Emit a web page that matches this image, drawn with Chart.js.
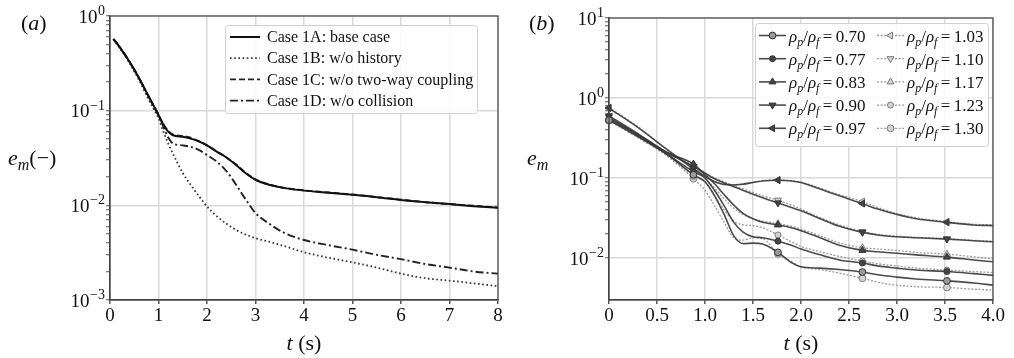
<!DOCTYPE html>
<html lang="en">
<head>
<meta charset="UTF-8">
<title>Error decay e_m</title>
<script src="https://cdn.jsdelivr.net/npm/chart.js"></script>
<style>
  body { margin: 0; background: #fff; }
  #wrap { position: relative; width: 1014px; height: 358px; font-family: 'Liberation Serif', serif; color: #111; }
  #wrap canvas { position: absolute; top: 0; }
  .lbl { position: absolute; white-space: nowrap; font-size: 22px; line-height: 22px; }
  .lbl sub { font-size: 16px; vertical-align: -5px; line-height: 0; }
  .ctr { transform: translateX(-50%); }
</style>
</head>
<body>
<div id="wrap">
  <canvas id="chartA" width="507" height="358" style="left:0"></canvas>
  <canvas id="chartB" width="507" height="358" style="left:507px"></canvas>
  <div class="lbl" style="left:21px;top:12px">(<i>a</i>)</div>
  <div class="lbl" style="left:8px;top:147px"><i>e</i><sub><i>m</i></sub>(&minus;)</div>
  <div class="lbl ctr" style="left:304px;top:332px"><i>t</i> (s)</div>
  <div class="lbl" style="left:529px;top:12px">(<i>b</i>)</div>
  <div class="lbl" style="left:527px;top:147px"><i>e</i><sub><i>m</i></sub></div>
  <div class="lbl ctr" style="left:801px;top:332px"><i>t</i> (s)</div>
</div>

<script>
// ---- panel (a): influence of the model terms ----
const timeA  = [0.07, 0.2, 0.4, 0.6, 0.8, 1.0, 1.1, 1.2, 1.3, 1.5, 1.7, 1.85, 2.0, 2.2, 2.4, 2.6, 2.8, 3.0, 3.3, 3.6, 4.0, 4.5, 5.0, 5.5, 6.0, 6.5, 7.0, 7.5, 8.0];
const case1A = [0.57, 0.47, 0.33, 0.22, 0.14, 0.09, 0.071, 0.06, 0.055, 0.053, 0.050, 0.047, 0.043, 0.037, 0.032, 0.0267, 0.0218, 0.0186, 0.0164, 0.0152, 0.0143, 0.0136, 0.0129, 0.0122, 0.0114, 0.0108, 0.0103, 0.0098, 0.0094];
const case1B = [0.57, 0.46, 0.32, 0.21, 0.13, 0.083, 0.06, 0.045, 0.035, 0.022, 0.0155, 0.0122, 0.0097, 0.0077, 0.0064, 0.0055, 0.0049, 0.0045, 0.0041, 0.0037, 0.0032, 0.0028, 0.0025, 0.0022, 0.0019, 0.0017, 0.0016, 0.0015, 0.0014];
const case1C = [0.57, 0.47, 0.33, 0.22, 0.14, 0.09, 0.072, 0.061, 0.056, 0.054, 0.051, 0.047, 0.043, 0.037, 0.032, 0.027, 0.022, 0.0188, 0.0165, 0.0153, 0.0144, 0.0137, 0.013, 0.0122, 0.0115, 0.0108, 0.0103, 0.0099, 0.0095];
const case1D = [0.57, 0.47, 0.33, 0.22, 0.14, 0.09, 0.068, 0.052, 0.045, 0.043, 0.041, 0.038, 0.034, 0.029, 0.023, 0.0165, 0.0115, 0.0083, 0.0063, 0.0051, 0.0043, 0.0038, 0.0034, 0.0030, 0.0027, 0.0024, 0.0022, 0.0020, 0.0019];
const caseLabels = ['Case 1A: base case', 'Case 1B: w/o history', 'Case 1C: w/o two-way coupling', 'Case 1D: w/o collision'];
const xTicksA = [0, 1, 2, 3, 4, 5, 6, 7, 8];
const decadesA = [1e-3, 1e-2, 1e-1, 1];

// ---- panel (b): density ratio sweep ----
const timeB = [0, 0.3, 0.6, 0.88, 1.0, 1.1, 1.2, 1.3, 1.4, 1.5, 1.6, 1.76, 1.9, 2.0, 2.2, 2.4, 2.64, 2.8, 3.0, 3.2, 3.52, 3.8, 4.0];
const markerTimes = [0, 0.88, 1.76, 2.64, 3.52];
const ratioLabels = ['0.70', '0.77', '0.83', '0.90', '0.97', '1.03', '1.10', '1.17', '1.23', '1.30'];
const r070 = [0.53, 0.33, 0.2, 0.11, 0.09, 0.06, 0.035, 0.019, 0.0152, 0.0154, 0.015, 0.0118, 0.0088, 0.0078, 0.0075, 0.0072, 0.0067, 0.0062, 0.0058, 0.0055, 0.0052, 0.0049, 0.0046];
const r077 = [0.55, 0.34, 0.2, 0.12, 0.1, 0.07, 0.045, 0.028, 0.021, 0.0185, 0.018, 0.0163, 0.0145, 0.013, 0.011, 0.0095, 0.0087, 0.008, 0.0075, 0.0071, 0.0068, 0.0064, 0.0061];
const r083 = [0.57, 0.35, 0.21, 0.15, 0.11, 0.085, 0.062, 0.046, 0.036, 0.031, 0.028, 0.026, 0.024, 0.022, 0.018, 0.0145, 0.0125, 0.012, 0.0115, 0.011, 0.0103, 0.0095, 0.009];
const r090 = [0.6, 0.36, 0.21, 0.14, 0.115, 0.098, 0.087, 0.078, 0.07, 0.063, 0.057, 0.049, 0.043, 0.039, 0.031, 0.025, 0.021, 0.0195, 0.0185, 0.018, 0.0173, 0.0165, 0.016];
const r097 = [0.75, 0.43, 0.23, 0.13, 0.105, 0.09, 0.083, 0.082, 0.084, 0.088, 0.092, 0.094, 0.092, 0.088, 0.073, 0.06, 0.048, 0.041, 0.035, 0.031, 0.028, 0.026, 0.0255];
const r103 = [0.76, 0.44, 0.23, 0.135, 0.107, 0.091, 0.084, 0.083, 0.085, 0.089, 0.093, 0.095, 0.093, 0.089, 0.075, 0.062, 0.051, 0.043, 0.036, 0.032, 0.0285, 0.0265, 0.026];
const r110 = [0.58, 0.35, 0.21, 0.14, 0.117, 0.1, 0.09, 0.081, 0.073, 0.066, 0.06, 0.053, 0.046, 0.041, 0.032, 0.026, 0.0215, 0.0198, 0.0188, 0.0182, 0.0175, 0.0167, 0.0162];
const r117 = [0.56, 0.34, 0.2, 0.145, 0.1, 0.075, 0.055, 0.042, 0.035, 0.031, 0.029, 0.027, 0.025, 0.023, 0.019, 0.0155, 0.0135, 0.013, 0.0125, 0.0118, 0.0112, 0.0104, 0.0098];
const r123 = [0.54, 0.33, 0.2, 0.105, 0.09, 0.06, 0.04, 0.029, 0.026, 0.0255, 0.024, 0.0195, 0.016, 0.014, 0.012, 0.0105, 0.0092, 0.0085, 0.008, 0.0075, 0.0071, 0.0068, 0.0066];
const r130 = [0.52, 0.32, 0.19, 0.098, 0.07, 0.045, 0.028, 0.018, 0.0168, 0.018, 0.0176, 0.0113, 0.009, 0.0078, 0.0072, 0.0065, 0.0056, 0.005, 0.0046, 0.0044, 0.0043, 0.0041, 0.004];
const xTicksB = [0, 0.5, 1.0, 1.5, 2.0, 2.5, 3.0, 3.5, 4.0];
const decadesB = [1e-2, 1e-1, 1, 10];
const yMinB = 0.003;

const SERIF = '"Liberation Serif", serif';
Chart.defaults.font.family = SERIF;
Chart.defaults.font.size = 19;
Chart.defaults.color = '#111';

function pairs(xs, ys) { return xs.map((x, i) => ({x: x, y: ys[i]})); }

// decade ticks plus 2..9 minor ticks, clipped to [lo, hi]
function logTicks(decades, lo, hi) {
  const out = [];
  decades.forEach(d => {
    for (let k = 1; k <= 9; k++) {
      const v = +(d * k).toPrecision(6);
      if (v >= lo * 0.999 && v <= hi * 1.001) out.push({value: v, major: k === 1});
    }
  });
  return out;
}

const gridGray = '#d9d9d9';

const frame = {
  id: 'frame',
  afterDatasetsDraw(chart) {
    const a = chart.chartArea, ctx = chart.ctx;
    ctx.save();
    ctx.strokeStyle = '#444';
    ctx.lineWidth = 1.2;
    ctx.strokeRect(a.left, a.top, a.right - a.left, a.bottom - a.top);
    ctx.restore();
  }
};

// "10" with a raised exponent, like the mathtext labels of the original
const powerLabels = {
  id: 'powerLabels',
  afterDraw(chart, args, opts) {
    const s = chart.scales.y, ctx = chart.ctx;
    ctx.save();
    ctx.fillStyle = '#111';
    ctx.textAlign = 'right';
    ctx.textBaseline = 'alphabetic';
    opts.decades.forEach(d => {
      const y = s.getPixelForValue(d);
      const ex = String(Math.round(Math.log10(d))).replace('-', '\u2212');
      const right = s.right - 5;
      ctx.font = '14px ' + SERIF;
      ctx.fillText(ex, right, y - 1);
      const w = ctx.measureText(ex).width;
      ctx.font = '19px ' + SERIF;
      ctx.fillText('10', right - w - 0.5, y + 6.5);
    });
    ctx.restore();
  }
};

function legendBox(ctx, x, y, w, h) {
  ctx.save();
  ctx.fillStyle = 'rgba(255,255,255,0.85)';
  ctx.strokeStyle = '#d0d0d0';
  ctx.lineWidth = 1;
  ctx.beginPath();
  ctx.roundRect(x, y, w, h, 3);
  ctx.fill();
  ctx.stroke();
  ctx.restore();
}

function yScale(decades, lo, hi, width) {
  return {
    type: 'logarithmic',
    min: lo, max: hi,
    afterBuildTicks: s => { s.ticks = logTicks(decades, lo, hi); },
    afterFit: s => { s.width = width; },
    border: {color: '#444', width: 1.2},
    grid: {
      color: c => (c.tick && c.tick.major) ? gridGray : 'rgba(0,0,0,0)',
      lineWidth: 1.5,
      tickColor: '#555',
      tickLength: 4,
      tickWidth: 1
    },
    ticks: {autoSkip: false, padding: 1, callback: () => ''}
  };
}

function xScale(lo, hi, vals, fmt) {
  return {
    type: 'linear',
    min: lo, max: hi,
    afterBuildTicks: s => { s.ticks = vals.map(v => ({value: v})); },
    afterFit: s => { s.height = 58; },
    border: {color: '#444', width: 1.2},
    grid: {color: gridGray, lineWidth: 1.5, tickColor: '#555', tickLength: 4},
    ticks: {autoSkip: false, maxRotation: 0, padding: 1, callback: fmt}
  };
}

// ---------------- chart (a) ----------------
const lineStyleA = [
  {color: '#111', width: 2, dash: []},
  {color: '#333', width: 1.8, dash: [1.6, 2.6]},
  {color: '#222', width: 1.9, dash: [6, 3]},
  {color: '#222', width: 1.9, dash: [8, 3, 2, 3]}
];
const seriesA = [case1A, case1B, case1C, case1D];

const legendA = {
  id: 'legendA',
  afterDraw(chart) {
    const ctx = chart.ctx;
    legendBox(ctx, 225.5, 25.5, 252, 88);
    ctx.save();
    ctx.font = '16px ' + SERIF;
    ctx.textBaseline = 'middle';
    caseLabels.forEach((lab, i) => {
      const y = 37 + i * 21.2, st = lineStyleA[i];
      ctx.strokeStyle = st.color;
      ctx.lineWidth = st.width;
      ctx.setLineDash(st.dash);
      ctx.beginPath();
      ctx.moveTo(230, y);
      ctx.lineTo(260, y);
      ctx.stroke();
      ctx.setLineDash([]);
      ctx.fillStyle = '#111';
      ctx.fillText(lab, 267, y + 1);
    });
    ctx.restore();
  }
};

// ---------------- chart (b) ----------------
const seriesB = [r070, r077, r083, r090, r097, r103, r110, r117, r123, r130];
const markerB = [
  {style: 'circle', rot: 0, r: 3.4},
  {style: 'circle', rot: 0, r: 3.0},
  {style: 'triangle', rot: 0, r: 4.0},
  {style: 'triangle', rot: 180, r: 4.0},
  {style: 'triangle', rot: -90, r: 4.0},
  {style: 'triangle', rot: -90, r: 4.0},
  {style: 'triangle', rot: 180, r: 4.0},
  {style: 'triangle', rot: 0, r: 4.0},
  {style: 'circle', rot: 0, r: 3.0},
  {style: 'circle', rot: 0, r: 3.4}
];
function styleB(i) {
  const solid = i < 5;
  return {
    line: solid ? 'rgba(55,55,55,0.9)' : 'rgba(150,150,150,0.95)',
    width: solid ? 1.6 : 1.3,
    dash: solid ? [] : [2, 1.6],
    fill: solid ? (i === 0 ? '#9a9a9a' : '#444') : '#d4d4d4',
    edge: solid ? '#333' : '#7a7a7a'
  };
}

function drawRatio(ctx, x, y, val) {
  const big = '17px ' + SERIF, bigI = 'italic 17px ' + SERIF, small = 'italic 12px ' + SERIF;
  const parts = [['\u03C1', bigI, 0], ['p', small, 4], ['/', big, 0], ['\u03C1', bigI, 0], ['f', small, 4], ['\u2009=\u2009' + val, big, 0]];
  parts.forEach(p => {
    ctx.font = p[1];
    ctx.fillText(p[0], x, y + p[2]);
    x += ctx.measureText(p[0]).width;
  });
}

const legendB = {
  id: 'legendB',
  afterDraw(chart) {
    const ctx = chart.ctx;
    legendBox(ctx, 248.5, 23.5, 233, 123);
    ctx.save();
    ctx.textBaseline = 'alphabetic';
    ratioLabels.forEach((lab, i) => {
      const col = Math.floor(i / 5), row = i % 5;
      const x0 = col === 0 ? 252 : 370;
      const y = 35.5 + row * 23.2;
      const st = styleB(i), mk = markerB[i];
      ctx.strokeStyle = st.line;
      ctx.lineWidth = st.width;
      ctx.setLineDash(st.dash);
      ctx.beginPath();
      ctx.moveTo(x0, y);
      ctx.lineTo(x0 + 27, y);
      ctx.stroke();
      ctx.setLineDash([]);
      ctx.fillStyle = st.fill;
      ctx.strokeStyle = st.edge;
      ctx.lineWidth = 1;
      Chart.helpers.drawPoint(ctx, {pointStyle: mk.style, radius: mk.r, rotation: mk.rot, borderWidth: 1}, x0 + 13.5, y);
      ctx.fillStyle = '#111';
      drawRatio(ctx, x0 + 30, y + 6, lab);
    });
    ctx.restore();
  }
};

function drawCharts() {
  new Chart(document.getElementById('chartA'), {
    type: 'line',
    data: {
      datasets: seriesA.map((s, i) => ({
        label: caseLabels[i],
        data: pairs(timeA, s),
        borderColor: lineStyleA[i].color,
        borderWidth: lineStyleA[i].width,
        borderDash: lineStyleA[i].dash,
        pointRadius: 0,
        fill: false,
        cubicInterpolationMode: 'monotone'
      }))
    },
    options: {
      responsive: false,
      animation: false,
      layout: {padding: {left: 0, right: 9, top: 16, bottom: 0}},
      plugins: {legend: {display: false}, tooltip: {enabled: false}, powerLabels: {decades: decadesA}},
      scales: {
        x: xScale(0, 8, xTicksA, v => String(v)),
        y: yScale(decadesA, 1e-3, 1, 110)
      }
    },
    plugins: [frame, powerLabels, legendA]
  });

  new Chart(document.getElementById('chartB'), {
    type: 'line',
    data: {
      datasets: seriesB.map((s, i) => {
        const st = styleB(i), mk = markerB[i];
        return {
          label: '\u03C1p/\u03C1f = ' + ratioLabels[i],
          data: pairs(timeB, s),
          borderColor: st.line,
          borderWidth: st.width,
          borderDash: st.dash,
          backgroundColor: st.fill,
          pointBackgroundColor: st.fill,
          pointBorderColor: st.edge,
          pointBorderWidth: 1,
          pointStyle: mk.style,
          pointRotation: mk.rot,
          pointRadius: c => markerTimes.includes(c.raw.x) ? mk.r : 0,
          fill: false,
          clip: 8,
          cubicInterpolationMode: 'monotone'
        };
      })
    },
    options: {
      responsive: false,
      animation: false,
      layout: {padding: {left: 0, right: 21, top: 18, bottom: 0}},
      plugins: {legend: {display: false}, tooltip: {enabled: false}, powerLabels: {decades: decadesB}},
      scales: {
        x: xScale(0, 4, xTicksB, v => v === 0 ? '0' : v.toFixed(1)),
        y: yScale(decadesB, yMinB, 10, 102)
      }
    },
    plugins: [frame, powerLabels, legendB]
  });
}

// make sure the serif face is resolved before the canvases draw text
Promise.all([
  document.fonts.load('19px "Liberation Serif"'),
  document.fonts.load('italic 17px "Liberation Serif"')
]).then(drawCharts, drawCharts);
</script>
</body>
</html>
